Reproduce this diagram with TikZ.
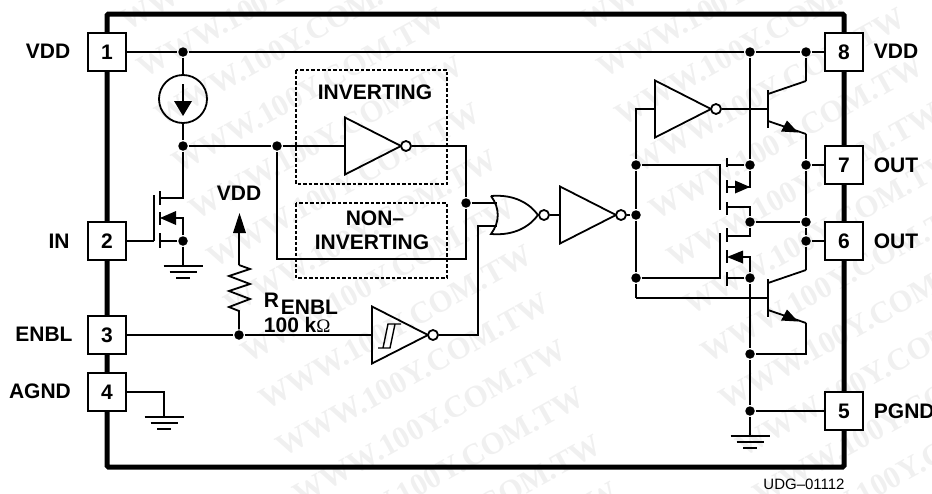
\documentclass[tikz,border=0pt]{standalone}
\usepackage{fontspec}
\setmainfont{Liberation Sans}
\newfontfamily\markfont{Liberation Serif}
\usetikzlibrary{positioning}
\definecolor{markgray}{gray}{0.94}
\tikzset{
  dot/.style={circle, fill=black, minimum size=9.5pt, inner sep=0pt},
  bubble/.style={draw, circle, fill=white, minimum size=10pt, inner sep=0pt},
  pinbox/.style={draw, fill=white, line width=1.4pt, minimum size=38pt, inner sep=0pt},
  dashbox/.style={dash pattern=on 3.5pt off 2pt, line width=1.2pt},
  inv/.pic={
    \draw (0,-28.5) -- (56,0) -- (0,28.5) -- cycle;
    \coordinate (-in) at (0,0);
    \node[bubble] (-out) at (61,0) {};
  },
  gnd/.pic={
    \coordinate (-top) at (0,0);
    \draw (-19.5,0) -- (19.5,0);
    \draw (-13.5,6) -- (13.5,6);
    \draw (-7,12) -- (7,12);
  },
  npn/.pic={
    \coordinate (-b) at (0,0);
    \coordinate (-c) at (38,-28);
    \coordinate (-e) at (38,25);
    \draw (0,-19) -- (0,19);
    \draw (0,-15) -- (-c);
    \draw (0,12) -- (-e);
    \fill (19,11.5) -- (13,22.5) -- (30,23.5) -- cycle;
  }
}
\begin{document}
\begin{tikzpicture}[x=1pt, y=-1pt, line width=1.8pt, every node/.style={font=\fontsize{21}{22}\bfseries\selectfont}]
\useasboundingbox (0,0) rectangle (932,493);

% watermark
\foreach \c/\x in {A/257, B/717}
  \foreach \k in {0,...,13}
    \node[rotate=29, text=markgray, font=\markfont\fontsize{31}{32}\bfseries\selectfont] (W\c\k) at ({\x+17.3*\k},{-52+47.4*\k}) {WWW.100Y.COM.TW};

% package outline
\draw[line width=5pt, rounded corners=1.5pt] (107,14) rectangle (844,467);

% pins
\node[pinbox] (P1) at (107,52) {1};
\node[pinbox] (P2) at (107,241) {2};
\node[pinbox] (P3) at (107,335) {3};
\node[pinbox] (P4) at (107,392) {4};
\node[pinbox] (P8) at (844,52) {8};
\node[pinbox] (P7) at (844,165) {7};
\node[pinbox] (P6) at (844,241) {6};
\node[pinbox] (P5) at (844,411) {5};

\node (L1) at (48,51) {VDD};
\node (L2) at (59,241) {IN};
\node (L3) at (44,334) {ENBL};
\node (L4) at (40,391) {AGND};
\node[anchor=west, inner sep=0pt] (L8) at (873,51) {VDD};
\node[anchor=west, inner sep=0pt] (L7) at (873,165) {OUT};
\node[anchor=west, inner sep=0pt] (L6) at (873,241) {OUT};
\node[anchor=west, inner sep=0pt] (L5) at (873,411) {PGND};
\node[font=\fontsize{15}{16}\selectfont] (UDG) at (804,484) {UDG--01112};

% junctions
\node[dot] (JV1) at (183,52) {};
\node[dot] (JV2) at (750,52) {};
\node[dot] (JV3) at (806,52) {};
\node[dot] (JI1) at (183,146) {};
\node[dot] (JI2) at (277,146) {};
\node[dot] (JM1) at (183,241) {};
\node[dot] (JE1) at (239,335) {};
\node[dot] (JO1) at (466,203) {};
\node[dot] (JB1) at (636,165) {};
\node[dot] (JB2) at (636,215) {};
\node[dot] (JB3) at (636,278) {};
\node[dot] (JS1) at (750,165) {};
\node[dot] (JS2) at (750,222) {};
\node[dot] (JS3) at (750,278) {};
\node[dot] (JS4) at (750,354) {};
\node[dot] (JS5) at (750,411) {};
\node[dot] (JU1) at (806,165) {};
\node[dot] (JU2) at (806,222) {};
\node[dot] (JU3) at (806,241) {};

% supply rail and current source
\draw (P1) -- (JV1) -- (JV2) -- (JV3) -- (P8);
\node[draw, circle, minimum size=48pt, inner sep=0pt] (CS) at (183,99) {};
\draw (JV1) -- (CS);
\draw (CS) -- (JI1);
\coordinate (CSa) at (183,84);
\coordinate (CSb) at (183,102);
\draw (CSa) -- (CSb);
\fill (174,101) -- (192,101) -- (183,116) -- cycle;

% input fet
\coordinate (NG) at (154,241);
\coordinate (ND) at (183,198);
\coordinate (NA) at (183,218);
\draw (P2) -- (NG);
\draw (154,195) -- (154,241);
\draw (160,191) -- (160,205);
\draw (160,212) -- (160,225);
\draw (160,233) -- (160,248);
\draw (JI1) -- (ND) -- (160,198);
\draw (JM1) -- (NA) -- (170,218);
\fill (160,218) -- (176,211) -- (176,225) -- cycle;
\draw (JM1) -- (160,241);
\pic (G1) at (183,266) {gnd};
\draw (JM1) -- (G1-top);

% agnd
\pic (G2) at (164,417) {gnd};
\coordinate (AC) at (164,392);
\draw (P4) -- (AC) -- (G2-top);

% enable pull-up
\node (VE) at (239,193) {VDD};
\coordinate (RT) at (239,265);
\coordinate (RB) at (239,311);
\draw (RT) -- (239,233);
\fill (233,233) -- (246,233) -- (239.5,213) -- cycle;
\draw (RT) -- (250,269) -- (229,276) -- (250,284) -- (229,291) -- (250,299) -- (229,307) -- (RB) -- (JE1);
\node[anchor=west, inner sep=0pt] (RN) at (263,300) {R};
\node[anchor=west, inner sep=0pt] (RS) at (280,307) {ENBL};
\node[anchor=west, inner sep=0pt] (RV) at (263,325) {100 k{\markfont\mdseries\fontsize{19}{20}\selectfont Ω}};

% schmitt inverter
\pic (I4) at (372,335) {inv};
\draw (P3) -- (JE1) -- (I4-in);
\draw[line width=1.4pt] (378,348) -- (390,348) -- (395,324);
\draw[line width=1.4pt] (383,348) -- (388,324) -- (401,324);

% inverting / non-inverting options
\pic (I1) at (345,146) {inv};
\draw (JI1) -- (JI2) -- (I1-in);
\coordinate (OA) at (466,146);
\coordinate (OB) at (466,259);
\coordinate (OC) at (277,259);
\draw (I1-out) -- (OA) -- (JO1) -- (OB) -- (OC) -- (JI2);
\draw[dashbox] (296,70) rectangle (447,184);
\draw[dashbox] (296,203) rectangle (447,278);
\node (T1) at (375,92) {INVERTING};
\node (T2) at (375,218) {NON--};
\node (T3) at (372,242) {INVERTING};

% nor gate
\coordinate (NA1) at (497,203);
\coordinate (NA2) at (497,226);
\coordinate (NT) at (538,215);
\draw (491,196) .. controls (515,194) and (530,204) .. (NT) .. controls (530,226) and (515,236) .. (491,234) .. controls (500,222) and (500,208) .. (491,196);
\node[bubble] (NB) at (544,215) {};
\draw (JO1) -- (NA1);
\coordinate (EC) at (478,226);
\draw (I4-out) -| (EC) -- (NA2);

% output drive
\pic (I2) at (560,215) {inv};
\draw (NB) -- (I2-in);
\draw (I2-out) -- (JB2);
\pic (I3) at (655,109) {inv};
\coordinate (IT) at (636,109);
\coordinate (BL) at (636,298);
\draw (I3-in) -- (IT) -- (JB1) -- (JB2) -- (JB3) -- (BL);

% output bipolars
\pic (Q1) at (768,109) {npn};
\pic (Q2) at (768,298) {npn};
\draw (I3-out) -- (Q1-b);
\draw (BL) -- (Q2-b);
\draw (JV3) -- (Q1-c);
\draw (Q1-e) -- (JU1) -- (JU2) -- (JU3) -- (Q2-c);
\draw (JU1) -- (P7);
\draw (JU3) -- (P6);
\coordinate (QE) at (806,354);
\draw (Q2-e) -- (QE) -- (JS4);

% output fets
\draw (JB1) -- (702,165);
\draw (JB3) -- (702,278);
\draw[line width=2.4pt] (702,165) -| (720,210);
\draw[line width=2.4pt] (702,278) -| (720,233);
\draw (727,158) -- (727,167);
\draw (727,180) -- (727,193);
\draw (727,202) -- (727,215);
\draw (727,228) -- (727,242);
\draw (727,250) -- (727,263);
\draw (727,272) -- (727,286);
\draw (JS1) -- (727,165);
\draw (JS3) -- (727,278);
\coordinate (FA) at (750,187);
\coordinate (FB) at (750,257);
\coordinate (FC) at (750,207);
\coordinate (FD) at (750,236);
\draw (JS1) -- (FA) -- (727,187);
\fill (750,187) -- (735,180.5) -- (735,193.5) -- cycle;
\draw (JS3) -- (FB) -- (735,257);
\fill (727,257) -- (743,250.5) -- (743,263.5) -- cycle;
\draw (727,207) -- (FC) -- (JS2) -- (FD) -- (727,236);
\draw (JS2) -- (JU2);

% ground return
\pic (G3) at (750,436) {gnd};
\draw (JV2) -- (JS1);
\draw (JS3) -- (JS4) -- (JS5) -- (G3-top);
\draw (JS5) -- (P5);
\end{tikzpicture}
\end{document}
